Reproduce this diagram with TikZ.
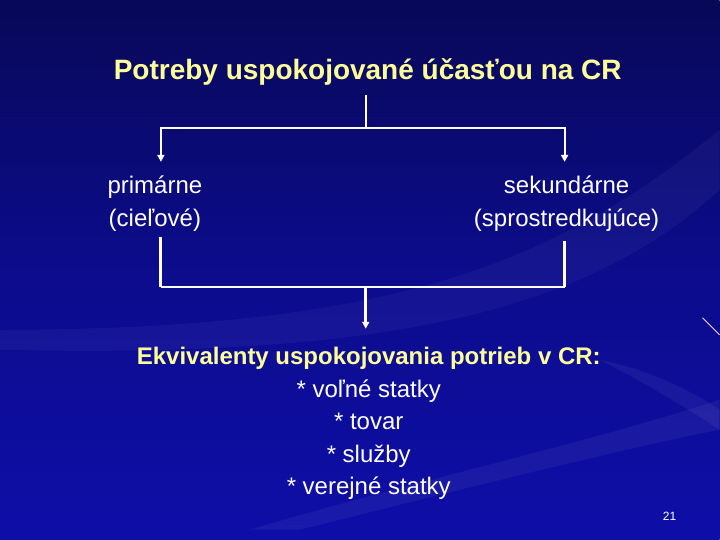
\documentclass[tikz,border=0pt]{standalone}
\usepackage{fontspec}
\setmainfont{Liberation Sans}
\usetikzlibrary{arrows.meta}
\definecolor{slideblue}{RGB}{12,12,140}
\definecolor{slidedark}{RGB}{8,8,88}
\definecolor{slidelight}{RGB}{14,14,168}
\definecolor{headyellow}{RGB}{255,255,153}
\tikzset{
  head/.style={text=headyellow,font=\fontsize{28}{32}\selectfont\bfseries,inner sep=0pt},
  branch/.style={text=white,font=\fontsize{24}{32.5}\selectfont,align=center,inner sep=0pt},
  wire/.style={white,line width=2pt},
  drop/.style={wire,-{Triangle[width=7pt,length=7pt]}}
}
\begin{document}
\begin{tikzpicture}[x=1pt,y=-1pt]
  % background
  \shade[top color=slidedark,bottom color=slidelight,middle color=slideblue]
    (0,0) rectangle (720,540);
  \fill[white,opacity=0.04] (720,130) .. controls (560,260) and (400,330) .. (0,330)
    -- (0,350) .. controls (420,360) and (600,300) .. (720,190) -- cycle;
  \fill[white,opacity=0.05] (720,400) .. controls (600,440) and (420,480) .. (250,530)
    -- (300,530) .. controls (460,490) and (620,450) .. (720,430) -- cycle;
  \fill[white,opacity=0.05] (600,360) .. controls (640,380) and (690,410) .. (720,430)
    -- (720,410) .. controls (690,390) and (650,370) .. (600,360) -- cycle;
  \draw[pink!70!white,line width=1pt] (703,318) -- (720,335);
  % texts
  \useasboundingbox (0,0) rectangle (720,540);
  \node[head] (title) at (368,72) {Potreby uspokojované účasťou na CR};
  \node[branch] (prim) at (155,204) {primárne\\(cieľové)};
  \node[branch] (sek) at (567,204) {sekundárne\\(sprostredkujúce)};
  \node[branch] (ekv) at (369,424)
    {\textcolor{headyellow}{\bfseries Ekvivalenty uspokojovania potrieb v CR:}\\
     * voľné statky\\* tovar\\* služby\\* verejné statky};
  \node[text=white,font=\fontsize{12}{14}\selectfont] (num) at (670,517) {21};
  % connectors
  \coordinate (top) at (366,95);
  \coordinate (split) at (366,128);
  \coordinate (primin) at (161,162);
  \coordinate (sekin) at (565,162);
  \coordinate (primout) at (161,237);
  \coordinate (sekout) at (565,241);
  \coordinate (join) at (366,287);
  \coordinate (ekvin) at (366,329);
  \begin{scope}[wire]
    \draw (top) -- (split);
    \draw[drop] (split) -| (primin);
    \draw[drop] (split) -| (sekin);
    \draw[line width=3pt] (primout) -- (primout |- join);
    \draw[line width=3pt] (sekout) -- (sekout |- join);
    \draw (primout |- join) -- (sekout |- join);
    \draw[drop,line width=3pt] (join) -- (ekvin);
  \end{scope}
\end{tikzpicture}
\end{document}
